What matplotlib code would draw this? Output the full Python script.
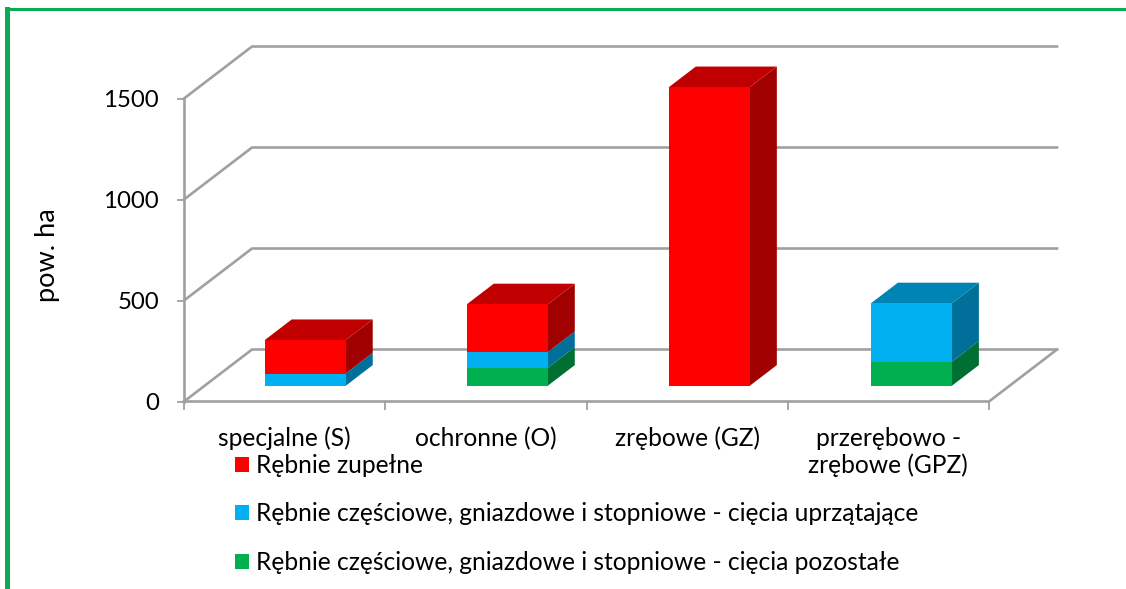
import matplotlib
matplotlib.use("Agg")
import matplotlib.pyplot as plt
from matplotlib.patches import Patch, Polygon
import numpy as np

plt.rcParams['font.family'] = ['Lato', 'DejaVu Sans']

categories = ["specjalne (S)", "ochronne (O)", "zrębowe (GZ)", "przerębowo -\nzrębowe (GPZ)"]
series_names = ["Rębnie zupełne",
                "Rębnie częściowe, gniazdowe i stopniowe - cięcia uprzątające",
                "Rębnie częściowe, gniazdowe i stopniowe - cięcia pozostałe"]
zupelne = [165, 236, 1478, 0]
uprzatajace = [61, 78, 0, 289]
pozostale = [0, 89, 0, 119]
yticks = [0, 500, 1000, 1500]

# stacking order bottom to top
stack = [pozostale, uprzatajace, zupelne]
front_cols = ["#00B050", "#00B0F0", "#FF0000"]
side_cols = ["#006F32", "#006F9A", "#A00000"]
top_cols = ["#008A3E", "#0084B4", "#C00000"]

fig = plt.figure(figsize=(11.26, 5.89), dpi=100)

# green frame on left and top
frame = fig.add_axes([7.5 / 1126, -0.01, 1.1, 1.01 - 8.5 / 589])
frame.set_xticks([])
frame.set_yticks([])
frame.patch.set_visible(False)
for s in ["right", "bottom"]:
    frame.spines[s].set_visible(False)
frame.spines["left"].set_color("#0BAA54")
frame.spines["top"].set_color("#0BAA54")
frame.spines["left"].set_linewidth(3.6)
frame.spines["top"].set_linewidth(2.2)

ax = fig.add_axes([184 / 1126, 1 - 401.5 / 589, 805 / 1126, 303 / 589])
ax.set_xlim(0, 4)
ax.set_ylim(0, 1500)
ax.patch.set_visible(False)
for s in ax.spines.values():
    s.set_visible(False)

# oblique projection, depth 1 is the back wall
dx = 68 / (805 / 4)
dy = 52 / (303 / 1500)


def project(x, y, d):
    return x + d * dx, y + d * dy


grey = "#A0A0A0"
for v in yticks:
    x0, y0 = project(0, v, 0)
    x1, y1 = project(0, v, 1)
    x2, y2 = project(4, v, 1)
    ax.plot([x0, x1, x2], [y0, y1, y2], color=grey, lw=1.9, clip_on=False, zorder=1)
ax.plot([0, 0], [0, 1500], color=grey, lw=1.9, clip_on=False, zorder=1)
x3, y3 = project(4, 0, 1)
ax.plot([0, 4, x3], [0, 0, y3], color=grey, lw=1.9, clip_on=False, zorder=1)

bar_w = 81 / (805 / 4)
d0, d1 = 0.3, 0.7
for i in range(len(categories)):
    # bars sit a hair further apart than the ticks in the original
    left = 0.5 - bar_w / 2 + i * 1.004
    right = left + bar_w
    base = 0
    top_idx = max(k for k in range(3) if stack[k][i] > 0)
    for k in range(3):
        val = stack[k][i]
        if val == 0:
            continue
        h = base + val
        front = [project(left, base, d0), project(right, base, d0),
                 project(right, h, d0), project(left, h, d0)]
        side = [project(right, base, d0), project(right, base, d1),
                project(right, h, d1), project(right, h, d0)]
        ax.add_patch(Polygon(side, fc=side_cols[k], ec="none", clip_on=False, zorder=3))
        ax.add_patch(Polygon(front, fc=front_cols[k], ec="none", clip_on=False, zorder=4))
        if k == top_idx:
            top = [project(left, h, d0), project(right, h, d0),
                   project(right, h, d1), project(left, h, d1)]
            ax.add_patch(Polygon(top, fc=top_cols[k], ec="none", clip_on=False, zorder=3))
        base = h

ax.set_yticks(yticks)
ax.set_xticks(np.arange(0, 5))
ax.set_xticklabels([])
ax.set_xticks(np.arange(0.5, 4), labels=categories, minor=True)
ax.tick_params(axis="y", length=5, width=1.3, color=grey, pad=13, labelsize=17.3)
ax.tick_params(axis="x", which="major", length=6, width=1.3, color=grey)
ax.tick_params(axis="x", which="minor", length=0, pad=18, labelsize=17.7)
ax.set_ylabel("pow. ha", fontsize=19.5)
ax.yaxis.set_label_coords((60 - 184) / 805, (401 - 255) / 303)

handles = [Patch(fc=c, ec="none") for c in ["#FF0000", "#00B0F0", "#00B050"]]
fig.legend(handles, series_names, loc="upper left", bbox_to_anchor=(213 / 1126, 1 - 432 / 589),
           frameon=False, fontsize=17.7, handlelength=0.57, handleheight=0.57, handletextpad=0.28,
           labelspacing=1.03, borderpad=0.4)

fig.savefig("out.png", dpi=100)
